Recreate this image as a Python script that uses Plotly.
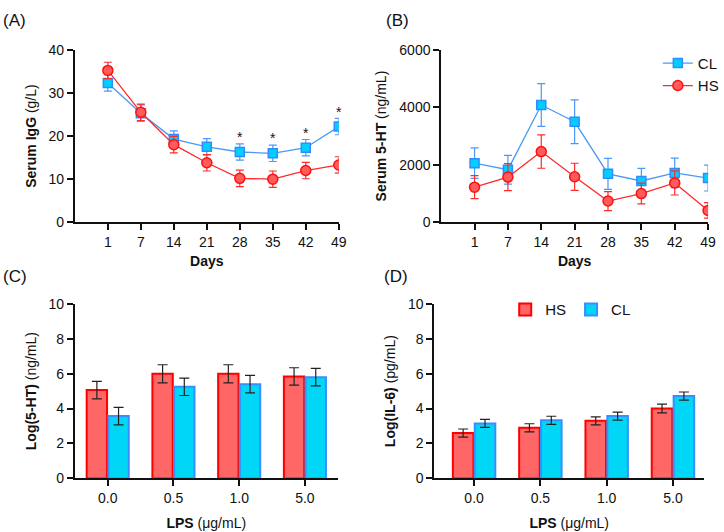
import plotly.graph_objects as go

# ---------------- data ----------------
days = ["1", "7", "14", "21", "28", "35", "42", "49"]

igg_hs = [35.2, 25.5, 18.0, 13.8, 10.2, 10.0, 12.0, 13.3]
igg_hs_err = [1.9, 1.9, 1.9, 1.9, 1.9, 1.9, 1.9, 1.9]
igg_cl = [32.3, 25.3, 19.3, 17.5, 16.3, 16.0, 17.3, 22.2]
igg_cl_err = [1.9, 1.9, 1.9, 1.9, 1.9, 1.9, 1.9, 1.9]
sig_days = ["28", "35", "42", "49"]

ht_cl = [2056, 1830, 4078, 3495, 1685, 1438, 1719, 1540]
ht_cl_err = [530, 500, 740, 760, 540, 440, 515, 450]
ht_hs = [1224, 1574, 2460, 1584, 741, 1000, 1371, 415]
ht_hs_err = [400, 470, 580, 470, 330, 360, 420, 270]

lps = ["0.0", "0.5", "1.0", "5.0"]
log5ht_hs = [5.06, 5.99, 5.99, 5.84]
log5ht_hs_err = [0.5, 0.52, 0.52, 0.5]
log5ht_cl = [3.57, 5.25, 5.40, 5.80]
log5ht_cl_err = [0.5, 0.5, 0.5, 0.5]

logil6_hs = [2.6, 2.9, 3.3, 4.0]
logil6_hs_err = [0.23, 0.23, 0.23, 0.25]
logil6_cl = [3.15, 3.33, 3.57, 4.72]
logil6_cl_err = [0.23, 0.23, 0.23, 0.23]

# ---------------- styles ----------------
FONT = "Liberation Sans, Arial, Helvetica, sans-serif"
CL_LINE = "#4A98F7"
CL_FILL = "#00CFFF"
CL_EDGE = "#2F8CFF"
HS_LINE = "#FF2A2A"
HS_FILL = "#FF5B5B"
HS_EDGE = "#FF1010"
BAR_HS_FILL = "#FF6666"
BAR_HS_EDGE = "#FF0000"
BAR_CL_FILL = "#00D7F7"
BAR_CL_EDGE = "#3A8DFF"

W, H = 724, 532

def dx(a, b):
    return [a / W, b / W]

def dy(top, bottom):
    return [1 - bottom / H, 1 - top / H]

fig = go.Figure()

# ---------- Panel A ----------
fig.add_trace(go.Scatter(
    x=days, y=igg_cl, mode="lines+markers", name="CL", showlegend=False,
    line=dict(color=CL_LINE, width=1.3),
    marker=dict(symbol="square", size=9, color=CL_FILL, line=dict(color=CL_EDGE, width=1.5)),
    error_y=dict(type="data", array=igg_cl_err, color=CL_LINE, thickness=1.2, width=4),
    xaxis="x", yaxis="y"))
fig.add_trace(go.Scatter(
    x=days, y=igg_hs, mode="lines+markers", name="HS", showlegend=False,
    line=dict(color=HS_LINE, width=1.3),
    marker=dict(symbol="circle", size=10, color=HS_FILL, line=dict(color=HS_EDGE, width=1.5)),
    error_y=dict(type="data", array=igg_hs_err, color=HS_LINE, thickness=1.2, width=4),
    xaxis="x", yaxis="y"))
sig_y = [igg_cl[days.index(d)] + igg_cl_err[days.index(d)] + 1.2 for d in sig_days]
fig.add_trace(go.Scatter(
    x=sig_days, y=sig_y, mode="text", text=["*"] * len(sig_days),
    textfont=dict(family=FONT, size=14, color="#111"), showlegend=False,
    cliponaxis=False, xaxis="x", yaxis="y"))

# ---------- Panel B ----------
fig.add_trace(go.Scatter(
    x=days, y=ht_cl, mode="lines+markers", name="CL", legend="legend",
    line=dict(color=CL_LINE, width=1.3),
    marker=dict(symbol="square", size=9, color=CL_FILL, line=dict(color=CL_EDGE, width=1.5)),
    error_y=dict(type="data", array=ht_cl_err, color=CL_LINE, thickness=1.2, width=4),
    xaxis="x2", yaxis="y2"))
fig.add_trace(go.Scatter(
    x=days, y=ht_hs, mode="lines+markers", name="HS", legend="legend",
    line=dict(color=HS_LINE, width=1.3),
    marker=dict(symbol="circle", size=10, color=HS_FILL, line=dict(color=HS_EDGE, width=1.5)),
    error_y=dict(type="data", array=ht_hs_err, color=HS_LINE, thickness=1.2, width=4),
    xaxis="x2", yaxis="y2"))

# ---------- Panel C ----------
fig.add_trace(go.Bar(
    x=lps, y=log5ht_hs, name="HS", showlegend=False,
    marker=dict(color=BAR_HS_FILL, line=dict(color=BAR_HS_EDGE, width=2)),
    error_y=dict(type="data", array=log5ht_hs_err, color="#222", thickness=1.2, width=5),
    xaxis="x3", yaxis="y3"))
fig.add_trace(go.Bar(
    x=lps, y=log5ht_cl, name="CL", showlegend=False,
    marker=dict(color=BAR_CL_FILL, line=dict(color=BAR_CL_EDGE, width=2)),
    error_y=dict(type="data", array=log5ht_cl_err, color="#222", thickness=1.2, width=5),
    xaxis="x3", yaxis="y3"))

# ---------- Panel D ----------
fig.add_trace(go.Bar(
    x=lps, y=logil6_hs, name="HS", legend="legend2",
    marker=dict(color=BAR_HS_FILL, line=dict(color=BAR_HS_EDGE, width=2)),
    error_y=dict(type="data", array=logil6_hs_err, color="#222", thickness=1.2, width=5),
    xaxis="x4", yaxis="y4"))
fig.add_trace(go.Bar(
    x=lps, y=logil6_cl, name="CL", legend="legend2",
    marker=dict(color=BAR_CL_FILL, line=dict(color=BAR_CL_EDGE, width=2)),
    error_y=dict(type="data", array=logil6_cl_err, color="#222", thickness=1.2, width=5),
    xaxis="x4", yaxis="y4"))

# ---------------- axes ----------------
tickfont = dict(family=FONT, size=14, color="#111")
titlefont = dict(family=FONT, size=14, color="#111")

def xax(domain, anchor, rng, title, standoff):
    return dict(domain=domain, anchor=anchor, type="category", range=rng,
                showline=True, linecolor="#111", linewidth=1.8, mirror=False,
                ticks="outside", ticklen=6, tickwidth=1.5, tickcolor="#111",
                tickfont=tickfont, showgrid=False, zeroline=False,
                title=dict(text=title, font=titlefont, standoff=standoff))

def yax(domain, anchor, rng, dtick, title):
    return dict(domain=domain, anchor=anchor, range=rng, dtick=dtick,
                showline=True, linecolor="#111", linewidth=1.8,
                ticks="outside", ticklen=6, tickwidth=1.5, tickcolor="#111",
                tickfont=tickfont, showgrid=False, zeroline=False,
                title=dict(text=title, font=titlefont, standoff=9))

top_row = dy(43, 221)
bot_row = dy(305, 485)

fig.update_layout(
    width=W, height=H,
    margin=dict(l=0, r=0, t=0, b=0),
    paper_bgcolor="white", plot_bgcolor="white",
    font=dict(family=FONT, color="#111"),
    bargap=0.34, bargroupgap=0.06, barmode="group",
    xaxis=xax(dx(76, 344), "y", [-1, 7], "<b>Days</b>", 7),
    yaxis=yax(top_row, "x", [0, 40], 10, "<b>Serum IgG</b> (g/L)"),
    xaxis2=xax(dx(448, 719), "y2", [-1, 7], "<b>Days</b>", 7),
    yaxis2=yax(top_row, "x2", [0, 6000], 2000, "<b>Serum 5-HT</b> (ng/mL)"),
    xaxis3=xax(dx(76, 343), "y3", [-0.5, 3.5], "<b>LPS</b> (μg/mL)", 13),
    yaxis3=yax(bot_row, "x3", [0, 10], 2, "<b>Log(5-HT)</b> (ng/mL)"),
    xaxis4=xax(dx(441, 715), "y4", [-0.6, 3.47], "<b>LPS</b> (μg/mL)", 13),
    yaxis4=yax(bot_row, "x4", [0, 10], 2, "<b>Log(IL-6)</b> (pg/mL)"),
    legend=dict(x=668 / W, y=1 - 40 / H, xanchor="left", yanchor="top",
                orientation="v", itemwidth=30, tracegroupgap=4,
                font=dict(family=FONT, size=15, color="#111"),
                bgcolor="rgba(0,0,0,0)"),
    legend2=dict(x=513 / W, y=1 - 294 / H, xanchor="left", yanchor="top",
                 orientation="h", itemwidth=30,
                 font=dict(family=FONT, size=15, color="#111"),
                 bgcolor="rgba(0,0,0,0)"),
    annotations=[
        dict(text="(A)", x=1 / W, y=1 - 1 / H, xref="paper", yref="paper",
             xanchor="left", yanchor="top", showarrow=False,
             font=dict(family=FONT, size=17, color="#111")),
        dict(text="(B)", x=390 / W, y=1 - 1 / H, xref="paper", yref="paper",
             xanchor="left", yanchor="top", showarrow=False,
             font=dict(family=FONT, size=17, color="#111")),
        dict(text="(C)", x=1 / W, y=1 - 265 / H, xref="paper", yref="paper",
             xanchor="left", yanchor="top", showarrow=False,
             font=dict(family=FONT, size=17, color="#111")),
        dict(text="(D)", x=388 / W, y=1 - 265 / H, xref="paper", yref="paper",
             xanchor="left", yanchor="top", showarrow=False,
             font=dict(family=FONT, size=17, color="#111")),
    ],
)

fig.write_html(
    "out.html",
    config={"displayModeBar": False},
    post_script="document.body.style.margin='0';document.body.style.overflow='hidden';",
)
